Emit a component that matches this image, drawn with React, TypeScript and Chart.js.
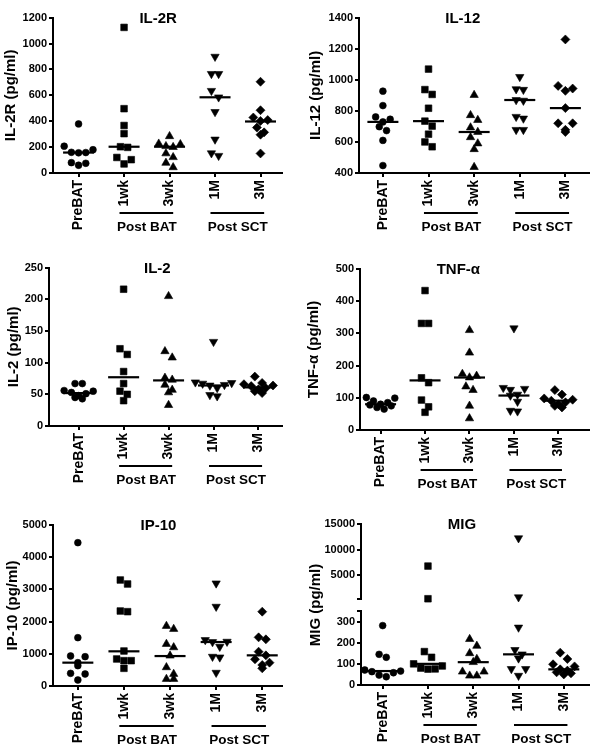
import { useEffect, useRef } from 'react';
import { Chart, registerables } from 'chart.js';

Chart.register(...registerables);

const FONT = '"Liberation Sans", Arial, Helvetica, sans-serif';
Chart.defaults.font.family = FONT;
Chart.defaults.color = '#000';

// ---------- data ----------
const CATEGORIES = ['PreBAT', '1wk', '3wk', '1M', '3M'];
const GROUP_LABELS = ['Post BAT', 'Post SCT'];
const GROUP_SPANS: [number, number][] = [[1, 2], [3, 4]];

const IL2R_VALUES = [
  [379, 207, 180, 160, 158, 156, 80, 75, 60],
  [1125, 497, 367, 304, 203, 198, 120, 103, 70],
  [284, 226, 222, 207, 200, 151, 122, 78, 44],
  [899, 766, 766, 635, 585, 472, 259, 153, 133],
  [705, 485, 429, 409, 402, 351, 314, 296, 151],
];
const IL2R_MEDIANS = [158, 203, 203, 585, 398];
const IL2R_TICKS = [0, 200, 400, 600, 800, 1000, 1200];

const IL12_VALUES = [
  [927, 834, 761, 746, 729, 698, 673, 610, 448],
  [1069, 937, 906, 817, 734, 702, 650, 600, 569],
  [902, 772, 741, 693, 664, 630, 590, 553, 438],
  [1019, 940, 936, 870, 866, 762, 751, 678, 678],
  [1260, 961, 944, 929, 818, 720, 720, 678, 664],
];
const IL12_MEDIANS = [729, 734, 664, 870, 818];
const IL12_TICKS = [400, 600, 800, 1000, 1200, 1400];

const IL2_VALUES = [
  [67, 67, 56, 55, 53, 51, 48, 45, 43],
  [216, 122, 113, 86, 67, 55, 50, 40],
  [205, 118, 108, 76, 73, 65, 57, 53, 33],
  [133, 69, 68, 67, 65, 64, 60, 49, 47],
  [78, 68, 66, 64, 63, 60, 58, 55, 52],
];
const IL2_MEDIANS = [52, 77, 72, 64, 61];
const IL2_TICKS = [0, 50, 100, 150, 200, 250];

const TNF_VALUES = [
  [101, 99, 90, 85, 80, 78, 75, 70, 65],
  [433, 331, 331, 162, 147, 93, 72, 55],
  [310, 240, 174, 168, 163, 135, 124, 75, 36],
  [316, 131, 128, 125, 110, 107, 88, 60, 58],
  [124, 110, 98, 94, 91, 86, 80, 75, 70],
];
const TNF_MEDIANS = [80, 154, 163, 107, 91];
const TNF_TICKS = [0, 100, 200, 300, 400, 500];

const IP10_VALUES = [
  [4451, 1501, 932, 911, 725, 631, 393, 373, 186],
  [3292, 3168, 2329, 2308, 1087, 839, 787, 787, 549],
  [1863, 1770, 1304, 1200, 942, 580, 373, 217, 217],
  [3188, 2464, 1428, 1377, 1366, 1221, 911, 890, 414],
  [2308, 1511, 1449, 1066, 952, 828, 725, 652, 549],
];
const IP10_MEDIANS = [725, 1077, 930, 1366, 952];
const IP10_TICKS = [0, 1000, 2000, 3000, 4000, 5000];

const MIG_VALUES = [
  [281, 145, 131, 71, 66, 63, 58, 47, 39],
  [6779, 400, 158, 131, 100, 90, 80, 76, 75],
  [217, 185, 150, 123, 108, 63, 63, 44, 44],
  [12230, 700, 272, 166, 145, 126, 76, 76, 44],
  [153, 123, 98, 88, 74, 68, 60, 55, 50],
];
const MIG_MEDIANS = [66, 100, 108, 145, 74];
const MIG_LOW_TICKS = [0, 100, 200, 300, 350];
const MIG_HIGH_TICKS = [350, 5000, 10000, 15000];
const MIG_BREAK = 350;
const MIG_MAX = 15000;

// ---------- styles ----------
const POINT_STYLES = ['circle', 'rect', 'triangle', 'triangle', 'rectRot'];
const POINT_ROT = [0, 0, 0, 180, 0];
const POINT_RADII = [3.4, 4.7, 4.8, 4.8, 4.5];
const ROW_GAP = 7;
const STEP = 7.6;
const XAXIS_H = 62;

type Area = { left: number; top: number; right: number; bottom: number };
type Panel = {
  title: string;
  yTitle: string;
  values: number[][];
  medians: number[];
  yMin: number;
  yMax: number;
  yTicks: number[];
  x: number;
  y: number;
  w: number;
  h: number;
  area: Area;
  xMin: number;
  xMax: number;
  titlePad: number;
  broken?: boolean;
};

const PANELS: Panel[] = [
  { title: 'IL-2R', yTitle: 'IL-2R (pg/ml)', values: IL2R_VALUES, medians: IL2R_MEDIANS, yMin: 0, yMax: 1200, yTicks: IL2R_TICKS,
    x: 0, y: 0, w: 300, h: 250, area: { left: 53, top: 13, right: 295, bottom: 173 }, xMin: -0.5625, xMax: 4.479, titlePad: 1.8 },
  { title: 'IL-12', yTitle: 'IL-12 (pg/ml)', values: IL12_VALUES, medians: IL12_MEDIANS, yMin: 400, yMax: 1400, yTicks: IL12_TICKS,
    x: 300, y: 0, w: 307, h: 250, area: { left: 59, top: 13, right: 300, bottom: 173 }, xMin: -0.524, xMax: 4.524, titlePad: 6.7 },
  { title: 'IL-2', yTitle: 'IL-2 (pg/ml)', values: IL2_VALUES, medians: IL2_MEDIANS, yMin: 0, yMax: 250, yTicks: IL2_TICKS,
    x: 0, y: 250, w: 300, h: 250, area: { left: 49, top: 16, right: 293, bottom: 176 }, xMin: -0.66, xMax: 4.53, titlePad: 5.2 },
  { title: 'TNF-α', yTitle: 'TNF-α (pg/ml)', values: TNF_VALUES, medians: TNF_MEDIANS, yMin: 0, yMax: 500, yTicks: TNF_TICKS,
    x: 300, y: 250, w: 307, h: 250, area: { left: 60, top: 19, right: 305, bottom: 180 }, xMin: -0.463, xMax: 4.695, titlePad: 5 },
  { title: 'IP-10', yTitle: 'IP-10 (pg/ml)', values: IP10_VALUES, medians: IP10_MEDIANS, yMin: 0, yMax: 5000, yTicks: IP10_TICKS,
    x: 0, y: 500, w: 300, h: 250, area: { left: 53, top: 25, right: 293, bottom: 186 }, xMin: -0.539, xMax: 4.435, titlePad: 3.5 },
  { title: 'MIG', yTitle: 'MIG (pg/ml)', values: MIG_VALUES, medians: MIG_MEDIANS, yMin: 0, yMax: MIG_MAX, yTicks: MIG_LOW_TICKS,
    x: 300, y: 500, w: 307, h: 250, area: { left: 61, top: 24, right: 303, bottom: 185 }, xMin: -0.479, xMax: 4.563, titlePad: 6.7, broken: true },
];

const MIG_WEIGHTS = { high: 75, gap: 12, low: 74 };

// beeswarm-like spreading of overlapping markers (in pixels)
function swarm(px: number[], rowGap: number, step: number): number[] {
  const order = px.map((_, i) => i).sort((a, b) => px[b] - px[a]);
  const out = new Array(px.length).fill(0);
  let row: number[] = [];
  const flush = () => {
    const n = row.length;
    const slots: number[] = [];
    for (let a = 0, b = n - 1; a <= b; a++, b--) {
      slots.push(a);
      if (a !== b) slots.push(b);
    }
    row.forEach((k, j) => {
      out[k] = (slots[j] - (n - 1) / 2) * step;
    });
    row = [];
  };
  for (const k of order) {
    if (row.length && px[row[0]] - px[k] >= rowGap) flush();
    row.push(k);
  }
  flush();
  return out;
}

const grid = {
  display: true,
  drawOnChartArea: false,
  drawTicks: true,
  tickLength: 4,
  tickWidth: 2,
  tickColor: '#000',
  lineWidth: 2,
  color: '#000',
};
const border = { display: true, width: 2, color: '#000' };
const yTickFont = { size: 11, weight: 'bold' as const, family: FONT };

function annotPlugin(p: Panel) {
  return {
    id: 'annot',
    afterDraw(chart: any) {
      const { ctx, chartArea } = chart;
      const xs = chart.scales.x;
      ctx.save();
      ctx.fillStyle = '#000';
      ctx.strokeStyle = '#000';
      ctx.textAlign = 'center';
      ctx.textBaseline = 'middle';
      ctx.font = `bold 15px ${FONT}`;
      ctx.fillText(p.title, xs.getPixelForValue(1.75), chartArea.top + 1);
      ctx.font = `bold 13.5px ${FONT}`;
      ctx.lineWidth = 2;
      GROUP_SPANS.forEach(([a, b], gi) => {
        const x1 = xs.getPixelForValue(a - 0.1);
        const x2 = xs.getPixelForValue(b + 0.08);
        const yl = xs.top + 40;
        ctx.beginPath();
        ctx.moveTo(x1, yl);
        ctx.lineTo(x2, yl);
        ctx.stroke();
        ctx.fillText(GROUP_LABELS[gi], xs.getPixelForValue((a + b) / 2), xs.top + 54);
      });
      ctx.restore();
    },
  };
}

function buildConfig(p: Panel): any {
  const { area } = p;
  const plotH = area.bottom - area.top;
  const pxPerCat = (area.right - area.left) / (p.xMax - p.xMin);
  const totalW = MIG_WEIGHTS.high + MIG_WEIGHTS.gap + MIG_WEIGHTS.low;
  const hLow = (plotH * MIG_WEIGHTS.low) / totalW;
  const hGap = (plotH * MIG_WEIGHTS.gap) / totalW;
  const hHigh = (plotH * MIG_WEIGHTS.high) / totalW;
  const toPx = p.broken
    ? (v: number) => (v <= MIG_BREAK ? (v / MIG_BREAK) * hLow : hLow + hGap + ((v - MIG_BREAK) / (MIG_MAX - MIG_BREAK)) * hHigh)
    : (v: number) => ((v - p.yMin) / (p.yMax - p.yMin)) * plotH;

  const datasets: any[] = [];
  p.values.forEach((vals, i) => {
    const offs = swarm(vals.map(toPx), ROW_GAP, STEP).map((o) => o / pxPerCat);
    const pts = vals.map((v, j) => ({ x: i + offs[j], y: v }));
    const base = {
      type: 'scatter',
      pointStyle: POINT_STYLES[i],
      pointRadius: POINT_RADII[i],
      pointRotation: POINT_ROT[i],
      backgroundColor: '#000',
      borderColor: '#000',
      borderWidth: 0.6,
      clip: false,
      order: 2,
    };
    if (p.broken) {
      datasets.push({ ...base, data: pts.filter((q) => q.y <= MIG_BREAK), yAxisID: 'yLow' });
      datasets.push({ ...base, data: pts.filter((q) => q.y > MIG_BREAK), yAxisID: 'yHigh' });
    } else {
      datasets.push({ ...base, data: pts, yAxisID: 'y' });
    }
  });
  datasets.push({
    type: 'scatter',
    data: p.medians.map((m, i) => ({ x: i, y: m })),
    pointStyle: 'line',
    pointRadius: 15.5,
    borderColor: '#000',
    backgroundColor: '#000',
    borderWidth: 2.2,
    clip: false,
    yAxisID: p.broken ? 'yLow' : 'y',
    order: 1,
  });

  const fixWidth = (ax: any) => {
    ax.width = area.left;
  };
  const yTitle = {
    display: true,
    text: p.yTitle,
    color: '#000',
    font: { size: 15, weight: 'bold' as const, family: FONT },
    padding: { top: p.titlePad, bottom: 0 },
  };

  const scales: any = {
    x: {
      type: 'linear',
      position: 'bottom',
      min: p.xMin,
      max: p.xMax,
      afterBuildTicks: (ax: any) => {
        ax.ticks = CATEGORIES.map((_, i) => ({ value: i }));
      },
      afterFit: (ax: any) => {
        ax.height = XAXIS_H;
      },
      ticks: {
        autoSkip: false,
        minRotation: 90,
        maxRotation: 90,
        padding: 3,
        color: '#000',
        font: { size: 14, weight: 'bold', family: FONT },
        callback: (v: any) => CATEGORIES[v as number],
      },
      grid,
      border,
    },
  };

  if (p.broken) {
    const mk = (min: number, max: number, ticks: number[], weight: number, sw: number) => ({
      type: 'linear',
      position: 'left',
      stack: 'mig',
      stackWeight: sw,
      weight,
      min,
      max,
      afterBuildTicks: (ax: any) => {
        ax.ticks = ticks.map((v) => ({ value: v }));
      },
      afterFit: fixWidth,
      ticks: {
        autoSkip: false,
        padding: 2,
        color: '#000',
        font: yTickFont,
        callback: (v: any) => (v === MIG_BREAK ? '' : String(v)),
      },
      grid,
      border,
    });
    scales.yLow = mk(0, MIG_BREAK, MIG_LOW_TICKS, 1, MIG_WEIGHTS.low);
    scales.yGap = {
      type: 'linear',
      position: 'left',
      stack: 'mig',
      stackWeight: MIG_WEIGHTS.gap,
      weight: 2,
      min: 0,
      max: 1,
      afterFit: fixWidth,
      ticks: { display: false },
      grid: { display: false },
      border: { display: false },
      title: yTitle,
    };
    scales.yHigh = mk(MIG_BREAK, MIG_MAX, MIG_HIGH_TICKS, 3, MIG_WEIGHTS.high);
  } else {
    scales.y = {
      type: 'linear',
      position: 'left',
      min: p.yMin,
      max: p.yMax,
      afterBuildTicks: (ax: any) => {
        ax.ticks = p.yTicks.map((v) => ({ value: v }));
      },
      afterFit: fixWidth,
      ticks: { autoSkip: false, padding: 2, color: '#000', font: yTickFont, callback: (v: any) => String(v) },
      grid,
      border,
      title: yTitle,
    };
  }

  return {
    type: 'scatter',
    data: { datasets },
    options: {
      responsive: false,
      maintainAspectRatio: false,
      animation: false,
      events: [],
      layout: {
        padding: {
          left: 0,
          top: area.top,
          right: p.w - area.right,
          bottom: Math.max(0, p.h - area.bottom - XAXIS_H),
        },
      },
      plugins: {
        legend: { display: false },
        tooltip: { enabled: false },
        title: { display: false },
      },
      scales,
    },
    plugins: [annotPlugin(p)],
  };
}

function PanelChart({ p }: { p: Panel }) {
  const ref = useRef<HTMLCanvasElement>(null);
  useEffect(() => {
    const chart = new Chart(ref.current as HTMLCanvasElement, buildConfig(p));
    return () => chart.destroy();
  }, [p]);
  return (
    <canvas
      ref={ref}
      width={p.w}
      height={p.h}
      style={{ position: 'absolute', left: p.x, top: p.y, width: p.w, height: p.h }}
    />
  );
}

export default function App() {
  return (
    <div style={{ position: 'absolute', left: 0, top: 0, width: 607, height: 750, background: '#fff' }}>
      {PANELS.map((p) => (
        <PanelChart key={p.title} p={p} />
      ))}
    </div>
  );
}
